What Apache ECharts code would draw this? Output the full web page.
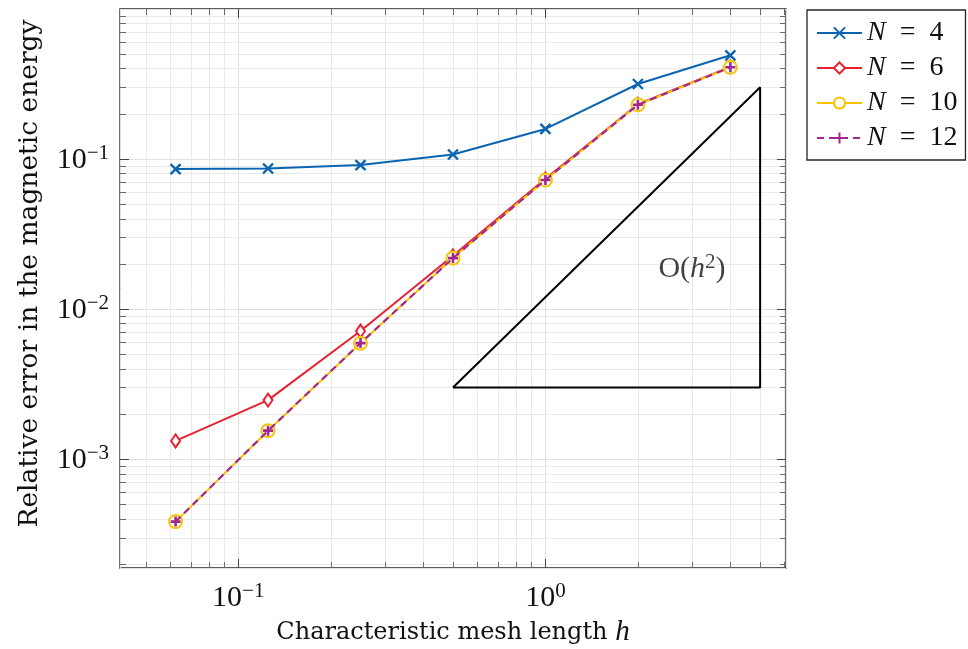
<!DOCTYPE html>
<html>
<head>
<meta charset="utf-8">
<script src="https://cdn.jsdelivr.net/npm/echarts@6/dist/echarts.min.js"></script>
<style>
  html, body { margin: 0; padding: 0; background: #ffffff; }
  #chart { width: 968px; height: 649px; }
</style>
</head>
<body>
<div id="chart"></div>
<script>
// Mesh sizes h and the relative error in the magnetic energy for each order N
const meshLength = [0.0625, 0.125, 0.25, 0.5, 1, 2, 4];
const errorN4  = [0.0854, 0.0862, 0.0908, 0.1068, 0.158, 0.315, 0.489];
const errorN6  = [1.32e-3, 2.47e-3, 7.12e-3, 0.0226, 0.0736, 0.231, 0.410];
const errorN10 = [3.83e-4, 1.545e-3, 5.91e-3, 0.0218, 0.0722, 0.229, 0.407];
const errorN12 = [3.83e-4, 1.545e-3, 5.92e-3, 0.0218, 0.0723, 0.229, 0.407];
const seriesNames = ['N = 4', 'N = 6', 'N = 10', 'N = 12'];

// Reference slope triangle for second-order convergence
const slopeTriangleH = [0.5, 5, 5, 0.5];
const slopeTriangleErr = [0.003, 0.003, 0.3, 0.003];
const slopeLabelAt = [3, 0.0188];

// Decade ticks
const xMajorTicks = [0.1, 1];
const yMajorTicks = [1e-3, 1e-2, 1e-1];

// Axis limits (10% padding in log space around the data)
const xMin = 0.0412, xMax = 6.07;
const yMin = 1.88e-4, yMax = 0.995;

const COLORS = { n4: '#0a64b0', n6: '#e8202f', n10: '#f7c404', n12: '#a2288c' };
const TEXT_FONT = 'DejaVu Serif';
const MATH_FONT = 'Liberation Serif';

function minorValues(lo, hi) {
  const out = [];
  for (let e = Math.floor(Math.log10(lo)); e <= Math.ceil(Math.log10(hi)); e++) {
    for (let k = 2; k <= 9; k++) {
      const v = k * Math.pow(10, e);
      if (v > lo && v < hi) out.push(v);
    }
  }
  return out;
}
const xMinor = minorValues(xMin, xMax);
const yMinor = minorValues(yMin, yMax);

function toPairs(xs, ys) { return xs.map((x, i) => [x, ys[i]]); }

function decadeLabel(value) {
  const e = Math.round(Math.log10(value));
  const exp = e < 0 ? '\u2212' + (-e) : String(e);
  return '{b|10}{s|' + exp + '}';
}
const decadeRich = {
  b: { fontFamily: MATH_FONT, fontSize: 30, color: '#111', lineHeight: 32, verticalAlign: 'bottom' },
  s: { fontFamily: MATH_FONT, fontSize: 21, color: '#111', lineHeight: 20, verticalAlign: 'top' }
};

// Minor grid lines plus tick marks on all four sides of the frame
function renderFrame(params, api) {
  const bl = api.coord([xMin, yMin]);
  const tr = api.coord([xMax, yMax]);
  const left = bl[0], bottom = bl[1], right = tr[0], top = tr[1];
  const children = [];
  const crisp = v => Math.round(v) + 0.5;
  const seg = (x1, y1, x2, y2, stroke, w) => children.push({
    type: 'line', shape: { x1, y1, x2, y2 }, style: { stroke, lineWidth: w }, silent: true
  });
  xMinor.forEach(v => {
    const px = crisp(api.coord([v, yMin])[0]);
    seg(px, top, px, bottom, '#eaeaea', 1);
  });
  yMinor.forEach(v => {
    const py = crisp(api.coord([xMin, v])[1]);
    seg(left, py, right, py, '#eaeaea', 1);
  });
  const tickColor = '#6a6a6a';
  xMinor.forEach(v => {
    const px = crisp(api.coord([v, yMin])[0]);
    seg(px, bottom, px, bottom - 6, tickColor, 1);
    seg(px, top, px, top + 6, tickColor, 1);
  });
  yMinor.forEach(v => {
    const py = crisp(api.coord([xMin, v])[1]);
    seg(left, py, left + 6, py, tickColor, 1);
    seg(right, py, right - 6, py, tickColor, 1);
  });
  xMajorTicks.forEach(v => {
    const px = crisp(api.coord([v, yMin])[0]);
    seg(px, bottom, px, bottom - 9, '#444', 1);
    seg(px, top, px, top + 9, '#444', 1);
  });
  yMajorTicks.forEach(v => {
    const py = crisp(api.coord([xMin, v])[1]);
    seg(left, py, left + 9, py, '#444', 1);
    seg(right, py, right - 9, py, '#444', 1);
  });
  return { type: 'group', children };
}

const crossSymbol = 'path://M0,0L10,10M10,0L0,10';
const plusSymbol = 'path://M5,0L5,10M0,5L10,5';

const chart = echarts.init(document.getElementById('chart'), null, { renderer: 'canvas' });
chart.setOption({
  animation: false,
  backgroundColor: '#ffffff',
  grid: {
    left: 120, top: 9, width: 666, height: 559,
    show: true, borderColor: '#262626', borderWidth: 1.3, backgroundColor: 'transparent',
    containLabel: false, outerBoundsMode: 'none'
  },
  xAxis: {
    type: 'log', logBase: 10, min: xMin, max: xMax,
    name: 'Characteristic mesh length {i|h}',
    nameLocation: 'middle', nameGap: 50,
    nameTextStyle: {
      fontFamily: TEXT_FONT, fontSize: 24, color: '#111',
      rich: { i: { fontFamily: MATH_FONT, fontStyle: 'italic', fontSize: 29, color: '#111' } }
    },
    axisLine: { show: false },
    axisTick: { show: false },
    splitLine: { show: true, lineStyle: { color: '#e0e0e0', width: 1 } },
    axisLabel: {
      showMinLabel: false, showMaxLabel: false, margin: 13,
      formatter: decadeLabel, rich: decadeRich
    }
  },
  yAxis: {
    type: 'log', logBase: 10, min: yMin, max: yMax,
    name: 'Relative error in the magnetic energy',
    nameLocation: 'middle', nameGap: 76,
    nameTextStyle: { fontFamily: TEXT_FONT, fontSize: 26.5, color: '#111', padding: [0, 0, 0, 30] },
    axisLine: { show: false },
    axisTick: { show: false },
    splitLine: { show: true, lineStyle: { color: '#e0e0e0', width: 1 } },
    axisLabel: {
      showMinLabel: false, showMaxLabel: false, margin: 11,
      formatter: decadeLabel, rich: decadeRich
    }
  },
  legend: {
    orient: 'vertical', left: 807, top: 10,
    data: seriesNames,
    padding: [8, 8, 7, 9],
    itemWidth: 45, itemHeight: 14, itemGap: 5,
    backgroundColor: '#ffffff',
    borderColor: '#262626', borderWidth: 1.3, borderRadius: 0,
    formatter: name => '{i|N}\u2002=\u2002' + name.split('= ')[1],
    textStyle: {
      fontFamily: MATH_FONT, fontSize: 28, color: '#111', lineHeight: 30,
      rich: { i: { fontFamily: MATH_FONT, fontStyle: 'italic', fontSize: 28, color: '#111', lineHeight: 30 } }
    }
  },
  series: [
    {
      type: 'custom', coordinateSystem: 'cartesian2d', silent: true, z: 1,
      renderItem: renderFrame, data: [[1, 0.01]], clip: false
    },
    {
      name: seriesNames[0], type: 'line', z: 3,
      data: toPairs(meshLength, errorN4),
      symbol: crossSymbol, symbolSize: 10,
      lineStyle: { color: COLORS.n4, width: 2 },
      itemStyle: { color: COLORS.n4, borderColor: COLORS.n4, borderWidth: 2.4 }
    },
    {
      name: seriesNames[1], type: 'line', z: 4,
      data: toPairs(meshLength, errorN6),
      symbol: 'emptyDiamond', symbolSize: [9, 13],
      lineStyle: { color: COLORS.n6, width: 2 },
      itemStyle: { color: COLORS.n6, borderColor: COLORS.n6, borderWidth: 1.8 }
    },
    {
      name: seriesNames[2], type: 'line', z: 5,
      data: toPairs(meshLength, errorN10),
      symbol: 'emptyCircle', symbolSize: 13,
      lineStyle: { color: COLORS.n10, width: 2 },
      itemStyle: { color: COLORS.n10, borderColor: COLORS.n10, borderWidth: 2.2 }
    },
    {
      name: seriesNames[3], type: 'line', z: 6,
      data: toPairs(meshLength, errorN12),
      symbol: plusSymbol, symbolSize: 10,
      lineStyle: { color: COLORS.n12, width: 2.2, type: [7, 5] },
      itemStyle: { color: COLORS.n12, borderColor: COLORS.n12, borderWidth: 2.6 }
    },
    {
      name: 'slope', type: 'line', z: 7,
      data: toPairs(slopeTriangleH, slopeTriangleErr),
      symbol: 'none',
      lineStyle: { color: '#000000', width: 2 }
    },
    {
      name: 'slope label', type: 'scatter', z: 8,
      data: [slopeLabelAt], symbolSize: 0,
      label: {
        show: true, position: 'inside',
        formatter: '{o|O}{b|(}{i|h}{s|2}{b|)}',
        rich: {
          o: { fontFamily: MATH_FONT, fontSize: 30, color: '#111', lineHeight: 32, verticalAlign: 'bottom' },
          b: { fontFamily: MATH_FONT, fontSize: 30, color: '#111', lineHeight: 32, verticalAlign: 'bottom' },
          i: { fontFamily: MATH_FONT, fontStyle: 'italic', fontSize: 30, color: '#111', lineHeight: 32, verticalAlign: 'bottom' },
          s: { fontFamily: MATH_FONT, fontSize: 21, color: '#111', lineHeight: 20, verticalAlign: 'top' }
        }
      }
    }
  ]
});
</script>
</body>
</html>
